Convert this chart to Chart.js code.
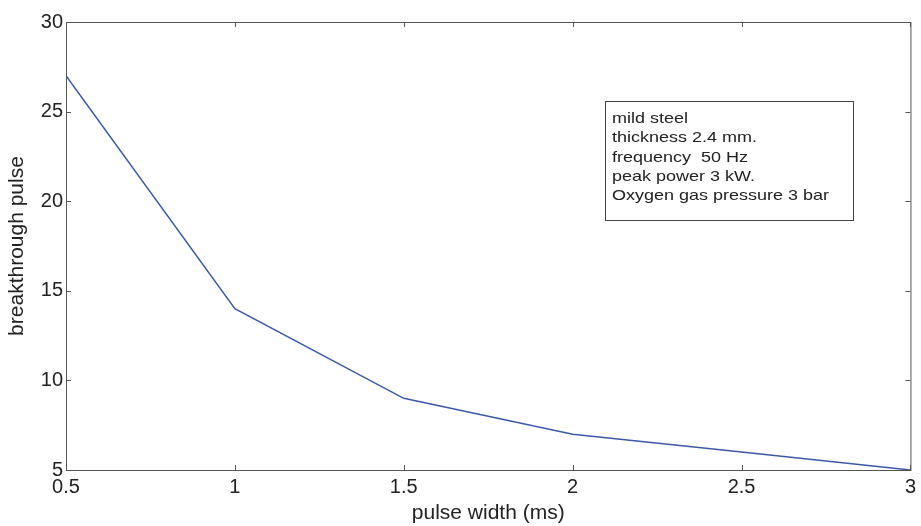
<!DOCTYPE html>
<html>
<head>
<meta charset="utf-8">
<script src="https://cdn.jsdelivr.net/npm/chart.js@4/dist/chart.umd.min.js"></script>
<style>
html,body{margin:0;padding:0;background:#fff;}
#c{display:block;}
</style>
</head>
<body>
<canvas id="c" width="921" height="526"></canvas>
<script>
const pulseWidth = [0.5, 1, 1.5, 2, 2.5, 3];
const breakthroughPulse = [27, 14, 9, 7, 6, 5];
const xTicks = [0.5, 1, 1.5, 2, 2.5, 3];
const yTicks = [5, 10, 15, 20, 25, 30];
const infoLines = ["mild steel", "thickness 2.4 mm.", "frequency  50 Hz", "peak power 3 kW.", "Oxygen gas pressure 3 bar"];

const FONT = 'Arial, "Liberation Sans", sans-serif';
const AXIS = '#555';

const frameTicks = {
  id: 'frameTicks',
  afterDraw(chart) {
    const {ctx, chartArea: a, scales: {x, y}} = chart;
    ctx.save();
    ctx.strokeStyle = AXIS;
    ctx.lineWidth = 1;
    ctx.strokeRect(a.left + 0.5, a.top + 0.5, a.right - a.left, a.bottom - a.top);
    const L = 5;
    ctx.beginPath();
    xTicks.forEach(v => {
      const px = Math.round(x.getPixelForValue(v)) + 0.5;
      ctx.moveTo(px, a.bottom); ctx.lineTo(px, a.bottom - L);
      ctx.moveTo(px, a.top); ctx.lineTo(px, a.top + L);
    });
    yTicks.forEach(v => {
      const py = Math.round(y.getPixelForValue(v)) + 0.5;
      ctx.moveTo(a.left, py); ctx.lineTo(a.left + L, py);
      ctx.moveTo(a.right, py); ctx.lineTo(a.right - L, py);
    });
    ctx.stroke();
    // info box
    const bx = 605, by = 101, bw = 248, bh = 119;
    ctx.fillStyle = '#fff';
    ctx.fillRect(bx, by, bw, bh);
    ctx.strokeStyle = '#444';
    ctx.strokeRect(bx + 0.5, by + 0.5, bw, bh);
    ctx.fillStyle = '#222';
    ctx.font = '15px ' + FONT;
    ctx.textBaseline = 'middle';
    ctx.textAlign = 'left';
    const sx = 1.2;
    ctx.translate(bx + 7, 0);
    ctx.scale(sx, 1);
    infoLines.forEach((t, i) => ctx.fillText(t, 0, by + 18 + i * 19.3));
    ctx.restore();
  }
};

new Chart(document.getElementById('c'), {
  type: 'line',
  data: {
    datasets: [{
      data: pulseWidth.map((v, i) => ({x: v, y: breakthroughPulse[i]})),
      borderColor: '#3a5aa8',
      borderWidth: 1.5,
      pointRadius: 0,
      tension: 0,
      fill: false
    }]
  },
  options: {
    responsive: false,
    animation: false,
    layout: {padding: {top: 22, right: 7, left: 0, bottom: 0}},
    plugins: {legend: {display: false}, tooltip: {enabled: false}},
    scales: {
      x: {
        type: 'linear',
        min: 0.5, max: 3,
        afterBuildTicks(s) { s.ticks = xTicks.map(v => ({value: v})); },
        afterFit(s) { s.height = 56; },
        grid: {display: true, drawOnChartArea: false, drawTicks: false},
        border: {display: false},
        ticks: {
          color: '#222', font: {family: FONT, size: 20}, padding: 5,
          maxRotation: 0, autoSkip: false,
          callback: v => String(v)
        },
        title: {display: true, text: 'pulse width (ms)', color: '#222',
          font: {family: FONT, size: 21}, padding: {top: 0, bottom: 0}}
      },
      y: {
        min: 5, max: 30,
        afterBuildTicks(s) { s.ticks = yTicks.map(v => ({value: v})); },
        afterFit(s) { s.width = 66; },
        grid: {display: true, drawOnChartArea: false, drawTicks: false},
        border: {display: false},
        ticks: {
          color: '#222', font: {family: FONT, size: 20}, padding: 3,
          autoSkip: false, callback: v => String(v)
        },
        title: {display: true, text: 'breakthrough pulse', color: '#222',
          font: {family: FONT, size: 21}, padding: {top: 5, bottom: 0}}
      }
    }
  },
  plugins: [frameTicks]
});
</script>
</body>
</html>
